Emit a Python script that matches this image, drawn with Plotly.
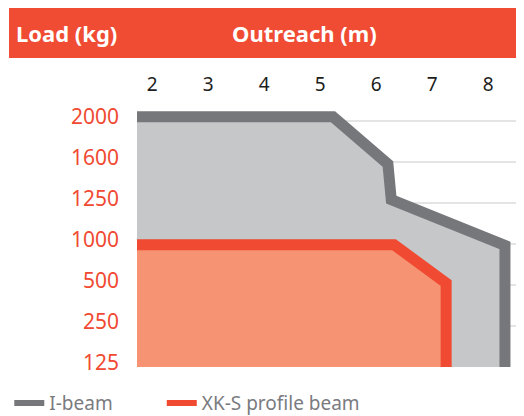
import numpy as np
import plotly.graph_objects as go

# axis labels
outreach_ticks = [2, 3, 4, 5, 6, 7, 8]  # m
load_levels = [125, 250, 500, 1000, 1250, 1600, 2000]  # kg, evenly spaced on the chart
load_labels = [str(v) for v in load_levels]

# capacity curves (outreach m, load kg)
ibeam_outreach = [1.73, 5.23, 6.21, 6.27, 8.30]
ibeam_load = [2000, 2000, 1547, 1245, 932]
xks_outreach = [1.73, 6.32, 7.25]
xks_load = [940, 940, 487]

# colours
header_red = "#f04b33"
grey_line = "#76777b"
grey_fill = "#c6c7c9"
red_line = "#f04a32"
orange_fill = "#f59372"

y_floor = -0.1
y_top = 6.46
x_min, x_max = 1.73, 8.64


def to_level(kg):
    # load scale is categorical: map kg onto the label ladder
    return list(np.interp(kg, load_levels, range(len(load_levels))))


def curve(outreach, load):
    xs = list(outreach) + [outreach[-1]]
    ys = to_level(load) + [y_floor]
    return xs, ys


fig = go.Figure()

for outreach, load, fill, line in [
    (ibeam_outreach, ibeam_load, grey_fill, grey_line),
    (xks_outreach, xks_load, orange_fill, red_line),
]:
    xs, ys = curve(outreach, load)
    fig.add_trace(go.Scatter(
        x=xs + [xs[0]], y=ys + [y_floor], mode="lines", fill="toself",
        fillcolor=fill, line=dict(width=0, color=fill), showlegend=False,
        hoverinfo="skip",
    ))
    fig.add_trace(go.Scatter(
        x=xs, y=ys, mode="lines", line=dict(width=11, color=line),
        showlegend=False, hoverinfo="skip",
    ))

# legend entries, one legend each so they sit where the reference has them
for name, color, leg in [("I-beam", grey_line, "legend"),
                         ("XK-S profile beam", red_line, "legend2")]:
    fig.add_trace(go.Scatter(
        x=[None], y=[None], mode="lines", name=name, legend=leg,
        line=dict(width=6, color=color),
    ))

# header bar
fig.add_shape(
    type="rect", xref="paper", yref="paper",
    x0=-0.3307, x1=0.9845, y0=1.1487, y1=1.338,
    fillcolor=header_red, line=dict(width=0), layer="above",
)
fig.add_annotation(
    text="<b>Load (kg)</b>", xref="paper", yref="paper", x=-0.318, y=1.2416,
    xanchor="left", yanchor="middle", showarrow=False,
    font=dict(family="Noto Sans", size=22, color="white"),
)
fig.add_annotation(
    text="<b>Outreach (m)</b>", xref="paper", yref="paper", x=0.434, y=1.2416,
    xanchor="center", yanchor="middle", showarrow=False,
    font=dict(family="Noto Sans", size=22, color="white"),
)

fig.update_xaxes(
    range=[x_min, x_max], side="top", tickvals=outreach_ticks,
    showgrid=False, zeroline=False, showline=False, ticks="",
    ticklabelstandoff=2,
    tickfont=dict(family="Noto Sans", size=19, color="#1d1d1b"),
)
fig.update_yaxes(
    range=[y_floor, y_top], tickvals=list(range(len(load_levels))),
    ticktext=load_labels, showgrid=False, zeroline=False, showline=False,
    ticks="", ticklabelstandoff=17,
    tickfont=dict(family="Noto Sans", size=21, color=red_line),
    minor=dict(
        tickmode="array", tickvals=[i - 0.1 for i in range(len(load_levels))],
        showgrid=True, gridcolor="#e4e4e4", gridwidth=1.5, ticks="",
    ),
)
legend_style = dict(
    orientation="h", y=-0.134, xanchor="left", yanchor="middle",
    font=dict(family="Noto Sans", size=19, color="#7a7b7f"),
    bgcolor="rgba(0,0,0,0)",
)
# the page puts the plot 8px in from the top-left, so the margins take that back
fig.update_layout(
    width=524,
    height=416,
    margin=dict(l=129, r=8, t=90, b=57, autoexpand=False),
    plot_bgcolor="white",
    paper_bgcolor="white",
    font=dict(family="Noto Sans", color="#7a7b7f"),
    legend=dict(x=-0.330, **legend_style),
    legend2=dict(x=0.064, **legend_style),
)

fig.write_html("out.html")
